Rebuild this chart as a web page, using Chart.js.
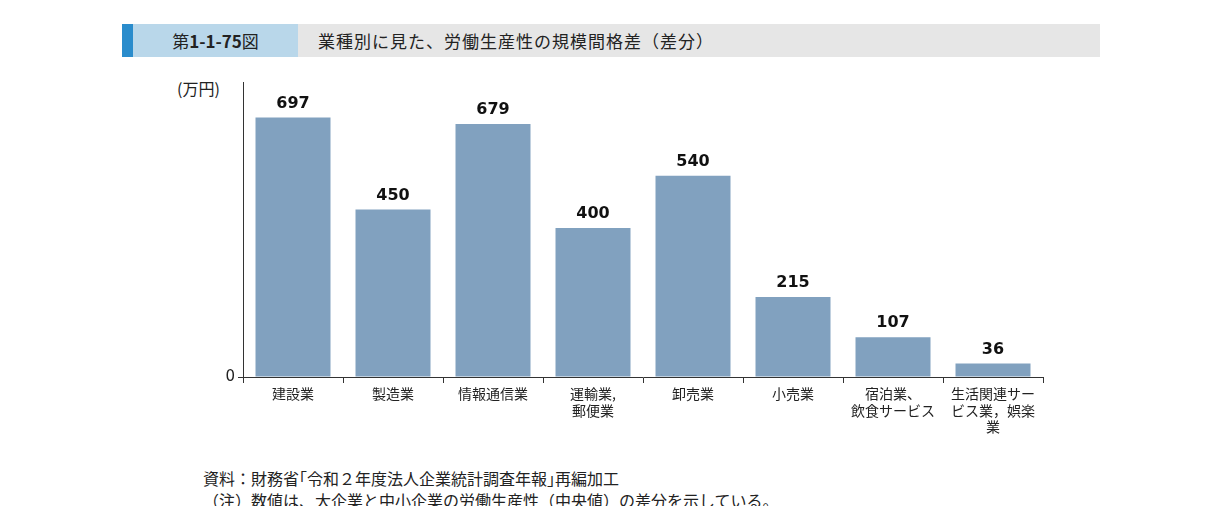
<!DOCTYPE html>
<html><head><meta charset="utf-8">
<script src="https://cdn.jsdelivr.net/npm/chart.js@4"></script>
<style>
body{margin:0;background:#fff;font-family:"Noto Sans CJK JP",sans-serif;width:1223px;height:506px;position:relative;overflow:hidden}
#hdr{position:absolute;left:122px;top:24px;width:978px;height:33px;background:#e6e6e6}
#stripe{position:absolute;left:0;top:0;width:11px;height:33px;background:#2a8ccc}
#num{position:absolute;left:11px;top:0;width:165px;height:33px;background:#b9d7ea;font-size:17px;line-height:33px;text-align:center;color:#222}
#ttl{position:absolute;left:196px;top:0;font-size:17px;line-height:33px;color:#222;letter-spacing:1px}
#unit{position:absolute;left:177px;top:76px;font-size:16px;color:#222}
#wrap{position:absolute;left:150px;top:70px;width:910px;height:380px}
.note{position:absolute;left:203px;font-size:16px;color:#222}
</style></head><body>
<div id="hdr"><div id="stripe"></div><div id="num">第<b>1-1-75</b>図</div><div id="ttl">業種別に見た、労働生産性の規模間格差（差分）</div></div>
<div id="unit">(万円)</div>
<div id="wrap"><canvas id="c"></canvas></div>
<div class="note" style="top:466px">資料：財務省｢令和２年度法人企業統計調査年報｣再編加工</div>
<div class="note" style="top:488px">（注）数値は、大企業と中小企業の労働生産性（中央値）の差分を示している。</div>
<script>
const industries = [['建設業'], ['製造業'], ['情報通信業'], ['運輸業,', '郵便業'], ['卸売業'], ['小売業'], ['宿泊業、', '飲食サービス'], ['生活関連サー', 'ビス業，娯楽', '業']];
const gapValues = [697, 450, 679, 400, 540, 215, 107, 36];

const valueLabels = {
    id: 'valueLabels',
    afterDatasetsDraw(chart) {
        const ctx = chart.ctx;
        ctx.save();
        ctx.font = 'bold 16px "DejaVu Sans", sans-serif';
        ctx.fillStyle = '#111';
        ctx.textAlign = 'center';
        ctx.textBaseline = 'bottom';
        chart.getDatasetMeta(0).data.forEach((bar, i) => {
            ctx.fillText(gapValues[i], bar.x, bar.y - 6);
        });
        ctx.restore();
    }
};

new Chart(document.getElementById('c'), {
    type: 'bar',
    data: {
        labels: industries,
        datasets: [{
            data: gapValues,
            backgroundColor: '#81a1bf',
            barPercentage: 0.75,
            categoryPercentage: 1
        }]
    },
    options: {
        responsive: true,
        maintainAspectRatio: false,
        animation: false,
        layout: {padding: {top: 10, right: 17}},
        plugins: {legend: {display: false}, tooltip: {enabled: false}},
        scales: {
            x: {
                grid: {offset: true, drawOnChartArea: false, drawTicks: true, tickLength: 6, color: '#333'},
                border: {color: '#333'},
                ticks: {color: '#222', font: {size: 14, family: '"Noto Sans CJK JP"'}, maxRotation: 0, padding: 2},
                afterFit(s) { s.height = 73; }
            },
            y: {
                min: 0, max: 792,
                grid: {drawOnChartArea: false, tickLength: 5, color: '#333'},
                border: {color: '#333'},
                afterBuildTicks(s) { s.ticks = s.ticks.filter(t => t.value % 200 === 0); },
                ticks: {stepSize: 200, color: '#222', font: {size: 15, family: '"DejaVu Sans"'}},
                afterFit(s) { s.width = 93; }
            }
        }
    },
    plugins: [valueLabels]
});
</script>
</body></html>
